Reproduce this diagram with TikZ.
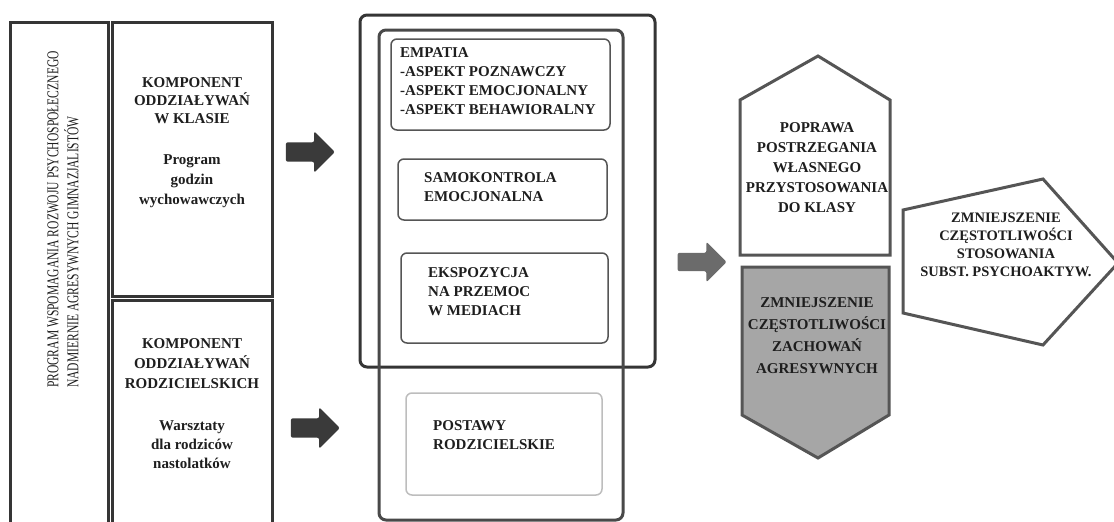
\documentclass[tikz,border=0pt]{standalone}
\usepackage{fontspec}
\setmainfont{Liberation Serif}
\usepackage{graphicx}
\usetikzlibrary{shapes.arrows}

\definecolor{linedark}{HTML}{353535}
\definecolor{linemid}{HTML}{555555}
\definecolor{linelight}{HTML}{BDBDBD}
\definecolor{arrowdark}{HTML}{3A3A3A}
\definecolor{arrowmid}{HTML}{6B6B6B}
\definecolor{fillgray}{HTML}{A6A6A6}
\definecolor{textdark}{HTML}{1E1E1E}

\begin{document}
\begin{tikzpicture}[x=1pt,y=-1pt,
    bigbox/.style={draw=linedark, line width=3pt, inner sep=0},
    roundbox/.style={draw=linedark, line width=3pt, rounded corners=7pt, inner sep=0},
    smallbox/.style={draw=linemid, line width=1.5pt, rounded corners=6pt, inner sep=0},
    boxtext/.style={font=\bfseries\fontsize{15}{19}\selectfont, text=textdark, inner sep=0},
    blockarrow/.style={single arrow, fill=arrowdark, minimum height=49pt, minimum width=41pt,
      single arrow head extend=11pt, inner xsep=0pt, inner ysep=9.5pt, rounded corners=2pt},
    house/.style={draw=linemid, line width=3pt, line join=miter}]

      \path[use as bounding box, fill=white] (0,0) rectangle (1114,522);

      % left column
      \node[bigbox, minimum width=98pt, minimum height=523pt] (prog) at (59,283.5) {};
      \node[bigbox, minimum width=160pt, minimum height=274pt] (klasa) at (192,159) {};
      \node[bigbox, minimum width=160pt, minimum height=245pt] (rodz) at (192,422.5) {};

      % middle column
      \node[roundbox, minimum width=295pt, minimum height=352pt] (outer) at (507.5,191) {};
      \node[roundbox, draw=linedark!90, minimum width=244pt, minimum height=490pt] (inner) at (501,275) {};
      \begin{scope}[every node/.style={smallbox}]
        \node[minimum width=219pt, minimum height=91pt] (emp)  at (500.5,84.5) {};
        \node[minimum width=209pt, minimum height=61pt] (samo) at (502.5,189.5) {};
        \node[minimum width=207pt, minimum height=90pt] (eksp) at (504.5,298) {};
        \node[draw=linelight, minimum width=196pt, minimum height=102pt] (post) at (504,444) {};
      \end{scope}

      % arrows
      \node[blockarrow] (arr1) at (305.5,152) {};
      \node[blockarrow] (arr2) at (310.5,428) {};
      \node[blockarrow, fill=arrowmid, minimum width=40pt, inner ysep=9pt] (arr3) at (697.5,262) {};

      % result shapes
      \draw[house] (740,100) -- (818,56) -- (890,100) -- (890,255) -- (740,255) -- cycle;
      \draw[house, fill=fillgray] (742,267) -- (889,267) -- (889,415) -- (818,458) -- (742,415) -- cycle;
      \draw[house] (903,210) -- (1043,179) -- (1118,263) -- (1043,345) -- (903,313) -- cycle;

      % texts
      \node[font=\fontsize{16.5}{20}\selectfont, text=textdark, inner sep=0, rotate=90, anchor=west, align=left] (prog-t) at (63,388)
        {\scalebox{0.70}[1]{PROGRAM WSPOMAGANIA ROZWOJU PSYCHOSPOŁECZNEGO}\\
         \scalebox{0.70}[1]{NADMIERNIE AGRESYWNYCH GIMNAZJALISTÓW}};

      \begin{scope}[every node/.style={boxtext, align=center}]
        \node[font=\bfseries\fontsize{15}{18}\selectfont] (klasa-t) at (192,101) {KOMPONENT\\ODDZIAŁYWAŃ\\W KLASIE};
        \node[font=\bfseries\fontsize{15}{20}\selectfont] (klasa-p) at (192,181) {Program\\godzin\\wychowawczych};
        \node[font=\bfseries\fontsize{15}{20}\selectfont] (rodz-t) at (192,364) {KOMPONENT\\ODDZIAŁYWAŃ\\RODZICIELSKICH};
        \node (rodz-p) at (192,445) {Warsztaty\\dla rodziców\\nastolatków};
        \node[font=\bfseries\fontsize{15}{20}\selectfont] (up-t) at (817,168)
          {POPRAWA\\POSTRZEGANIA\\WŁASNEGO\\PRZYSTOSOWANIA\\DO KLASY};
        \node[font=\bfseries\fontsize{15}{22}\selectfont] (down-t) at (817,336)
          {ZMNIEJSZENIE\\CZĘSTOTLIWOŚCI\\ZACHOWAŃ\\AGRESYWNYCH};
        \node[font=\bfseries\fontsize{14.5}{18}\selectfont] (right-t) at (1006,245)
          {ZMNIEJSZENIE\\CZĘSTOTLIWOŚCI\\STOSOWANIA\\SUBST. PSYCHOAKTYW.};
      \end{scope}

      \begin{scope}[every node/.style={boxtext, align=left, anchor=north west}]
        \node (emp-t)  at (400,47)  {EMPATIA\\-ASPEKT POZNAWCZY\\-ASPEKT EMOCJONALNY\\-ASPEKT BEHAWIORALNY};
        \node (samo-t) at (424,172) {SAMOKONTROLA\\EMOCJONALNA};
        \node (eksp-t) at (428,267) {EKSPOZYCJA\\NA PRZEMOC\\W MEDIACH};
        \node (post-t) at (433,420) {POSTAWY\\RODZICIELSKIE};
      \end{scope}

    \end{tikzpicture}
\end{document}
